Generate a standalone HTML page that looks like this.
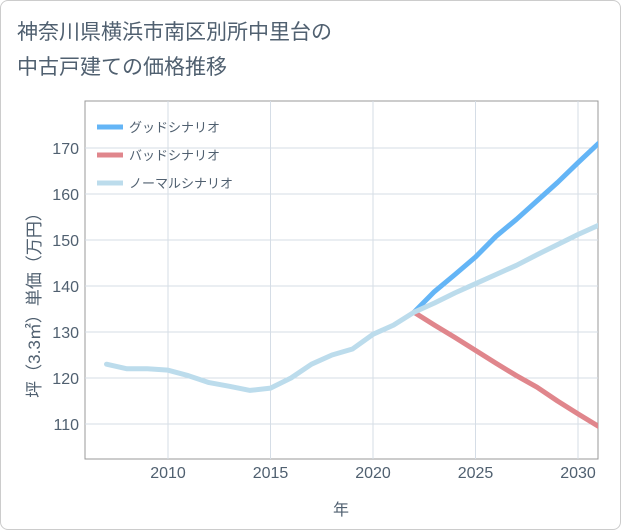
<!DOCTYPE html>
<html><head><meta charset="utf-8"><style>
body{margin:0;background:#fff;}
#wrap{position:relative;width:619px;height:528px;border:1px solid #ccc;border-radius:8px;background:#fff;overflow:hidden;font-family:"Liberation Sans","Noto Sans CJK JP",sans-serif;}
#title{position:absolute;left:16px;top:14px;font-size:21px;line-height:35px;color:#506070;font-weight:normal;}
</style></head><body>
<div id="wrap">
<div id="title">神奈川県横浜市南区別所中里台の<br>中古戸建ての価格推移</div>
<svg id="chart" width="621" height="530" style="position:absolute;left:0;top:0"></svg>
</div>
<script>
const years=[2007,2008,2009,2010,2011,2012,2013,2014,2015,2016,2017,2018,2019,2020,2021,2022,2023,2024,2025,2026,2027,2028,2029,2030,2031];
const normalVals=[123,122,122,121.7,120.5,119,118.2,117.3,117.8,120,123,125,126.3,129.5,131.5,134.3,136.3,138.5,140.5,142.5,144.5,146.8,149,151.2,153.2];
const goodYears=[2022,2023,2024,2025,2026,2027,2028,2029,2030,2031];
const goodVals=[134.3,138.8,142.5,146.3,150.8,154.5,158.5,162.5,166.8,171];
const badVals=[134.3,131.5,128.8,126,123.2,120.5,118,115,112.2,109.5];
const xTicks=[2010,2015,2020,2025,2030];
const yTicks=[110,120,130,140,150,160,170];
const NS="http://www.w3.org/2000/svg";
const TC='#506070';
const svg=document.getElementById('chart');
const L=84,R=597,T=100,B=458;
const x=v=>167+(v-2010)*20.5;
const y=v=>423-(v-110)*4.6;
function mk(t,a){const e=document.createElementNS(NS,t);for(const k in a)e.setAttribute(k,a[k]);svg.appendChild(e);return e;}
let e=mk('rect',{x:L,y:T,width:R-L,height:B-T,fill:'#fff',stroke:'#999','stroke-width':1});


xTicks.forEach(t=>{let g=mk('line',{x1:x(t),x2:x(t),y1:T,y2:B,stroke:'#d5dde6'});


let s=mk('text',{x:x(t),y:477,'text-anchor':'middle','font-size':16,fill:TC});s.textContent=t;

});
yTicks.forEach(t=>{let g=mk('line',{x1:L,x2:R,y1:y(t),y2:y(t),stroke:'#d5dde6'});


let s=mk('text',{x:78,y:y(t)+6,'text-anchor':'end','font-size':16,fill:TC});s.textContent=t;

});
let xt=mk('text',{x:340,y:514,'text-anchor':'middle','font-size':16,fill:TC});xt.textContent='年';


let yt=mk('text',{x:0,y:0,'text-anchor':'middle','font-size':17,fill:TC,transform:'translate(39,300) rotate(-90)'});yt.textContent='坪（3.3㎡）単価（万円）';


function line(xs,vs,c,name){let p=mk('polyline',{points:xs.map((v,i)=>x(v)+','+y(vs[i])).join(' '),fill:'none',stroke:c,'stroke-width':5,'stroke-linejoin':'round','stroke-linecap':'round','clip-path':'url(#cp)'});

}
let d=mk('defs',{});let cp=document.createElementNS(NS,'clipPath');cp.setAttribute('id','cp');let cr=document.createElementNS(NS,'rect');cr.setAttribute('x',L);cr.setAttribute('y',T);cr.setAttribute('width',R-L);cr.setAttribute('height',B-T);cp.appendChild(cr);d.appendChild(cp);
line(goodYears,goodVals,'#64b5f6','good-scenario-line');
line(goodYears,badVals,'#e0868c','bad-scenario-line');
line(years,normalVals,'#bcdcec','normal-scenario-line');
[['グッドシナリオ','#64b5f6'],['バッドシナリオ','#e0868c'],['ノーマルシナリオ','#bcdcec']].forEach((l,i)=>{
let ly=126+i*28;
let a=mk('line',{x1:96,x2:122,y1:ly,y2:ly,stroke:l[1],'stroke-width':5});


let s=mk('text',{x:128,y:ly+5,'font-size':13,fill:TC});s.textContent=l[0];

});
</script>
</body></html>
